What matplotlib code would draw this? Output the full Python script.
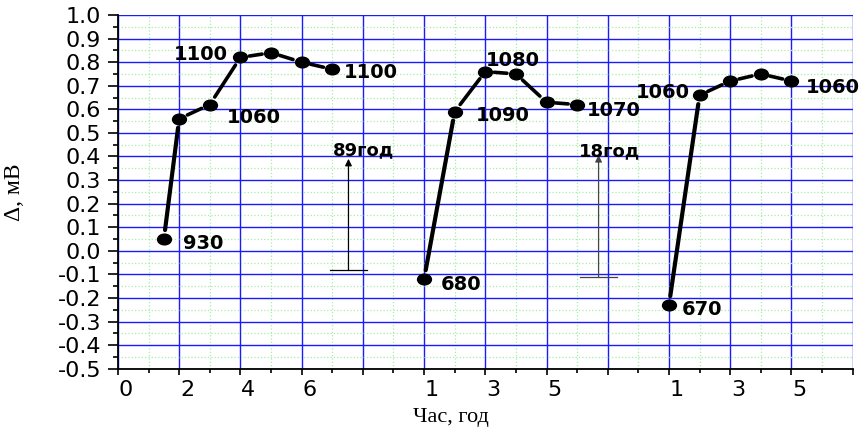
import numpy as np
import matplotlib.pyplot as plt
from matplotlib.path import Path
from matplotlib.transforms import Affine2D, ScaledTranslation
from matplotlib.ticker import FixedLocator, MultipleLocator, FuncFormatter

plt.rcParams['axes.unicode_minus'] = False

# three runs of measurements, x in axis units, delta in mV
x1 = [1.5, 2, 3, 4, 5, 6, 7]
y1 = [0.05, 0.56, 0.62, 0.82, 0.84, 0.80, 0.77]
x2 = [10, 11, 12, 13, 14, 15]
y2 = [-0.12, 0.59, 0.76, 0.75, 0.63, 0.62]
x3 = [18, 19, 20, 21, 22]
y3 = [-0.23, 0.66, 0.72, 0.75, 0.72]

# x axis is three stacked hour scales
xtick_pos = list(range(0, 25, 2))
xtick_labels = ['0', '2', '4', '6', '', '1', '3', '5', '', '1', '3', '5', '']

# point labels: (series index, point index, text)
point_labels = [(0, 0, '930'), (0, 2, '1060'), (0, 3, '1100'), (0, 6, '1100'),
                (1, 0, '680'), (1, 1, '1090'), (1, 2, '1080'), (1, 5, '1070'),
                (2, 0, '670'), (2, 1, '1060'), (2, 4, '1060')]

# the two marker arrows
arrow_x = [7.53, 15.7]
arrow_base = [-0.083, -0.112]
arrow_top = [0.39, 0.406]
arrow_text = ['89год', '18год']

series = [(x1, y1), (x2, y2), (x3, y3)]

fig = plt.figure(figsize=(8.63, 4.36), dpi=100)
ax = fig.add_axes([0.1367, 0.1544, 0.988 - 0.1367, 0.9656 - 0.1544])

# flattened ellipse marker
ell = Path.unit_circle().transformed(Affine2D().scale(1.3, 1.0))

for xs, ys in series:
    ax.plot(xs, ys, ls='none', marker=ell, ms=10, color='black', zorder=4)
    for i in range(len(xs) - 1):
        lw = 3.0 if i == 0 else 2.6
        ax.annotate('', xy=(xs[i + 1], ys[i + 1]), xytext=(xs[i], ys[i]),
                    arrowprops=dict(arrowstyle='-', lw=lw, color='black',
                                    shrinkA=6.5, shrinkB=6.5), zorder=3)

# offsets of the labels (points) and alignment
offs = [(14, -3, 'left'), (12, -9, 'left'), (-9, 2, 'right'), (8, -2, 'left'),
        (12, -4, 'left'), (15, -3, 'left'), (0.5, 8, 'left'), (7, -4.4, 'left'),
        (9, -3, 'left'), (-7, 1.7, 'right'), (10.4, -5, 'left')]
for (s, i, txt), (dx, dy, ha) in zip(point_labels, offs):
    xs, ys = series[s]
    ax.annotate(txt, xy=(xs[i], ys[i]), xytext=(dx, dy), textcoords='offset points',
                ha=ha, va='center', fontsize=14, fontweight='bold',
                family='DejaVu Sans', zorder=5)

text_offs = [(-11, 6), (-14, 3)]
arrow_cols = ['black', '#444444']
for ax_x, yb, yt, txt, (dx, dy), col in zip(arrow_x, arrow_base, arrow_top, arrow_text,
                                            text_offs, arrow_cols):
    ax.annotate('', xy=(ax_x, yt), xytext=(ax_x, yb),
                arrowprops=dict(arrowstyle='-|>', color=col, lw=0.9,
                                mutation_scale=10, shrinkA=0, shrinkB=0))
    ax.plot([ax_x - 0.6, ax_x + 0.6], [yb, yb], color=col, lw=0.9)
    ax.annotate(txt, xy=(ax_x, yt), xytext=(dx, dy), textcoords='offset points',
                ha='left', va='center', fontsize=13, fontweight='bold',
                family='DejaVu Sans')

ax.set_xlim(0, 24)
ax.set_ylim(-0.5, 1.0)

ax.xaxis.set_major_locator(FixedLocator(xtick_pos))
ax.set_xticklabels(xtick_labels)
ax.xaxis.set_minor_locator(MultipleLocator(1))
ax.yaxis.set_major_locator(FixedLocator(np.round(np.arange(-0.5, 1.01, 0.1), 1)))
ax.yaxis.set_major_formatter(FuncFormatter(lambda v, p: '%.1f' % (round(v, 1) + 0.0)))
ax.yaxis.set_minor_locator(MultipleLocator(0.05))

ax.set_axisbelow(True)
ax.grid(which='major', color='#1a1aff', lw=1.0)
ax.grid(which='minor', color='#a8eca8', ls=':', lw=0.9)

for sp in ['top', 'right']:
    ax.spines[sp].set_visible(False)
for sp in ['left', 'bottom']:
    ax.spines[sp].set_linewidth(1.3)

ax.tick_params(axis='y', which='major', length=7, width=1.2, pad=5, labelsize=16)
ax.tick_params(axis='y', which='minor', length=3.5, width=1.2)
ax.tick_params(axis='x', which='major', length=4.5, width=1.2, pad=4, labelsize=16)
ax.tick_params(axis='x', which='minor', length=3, width=1.2)

shift = ScaledTranslation(0.08, 0, fig.dpi_scale_trans)
for lab in ax.get_xticklabels():
    lab.set_transform(lab.get_transform() + shift)

ax.set_xlabel('Час, год', family='Liberation Serif', fontsize=16)
ax.set_ylabel('Δ, мВ', family='Liberation Serif', fontsize=17)
ax.xaxis.set_label_coords(0.453, -0.11)
ax.yaxis.set_label_coords(-0.127, 0.5)

plt.savefig('out.png', dpi=100)
